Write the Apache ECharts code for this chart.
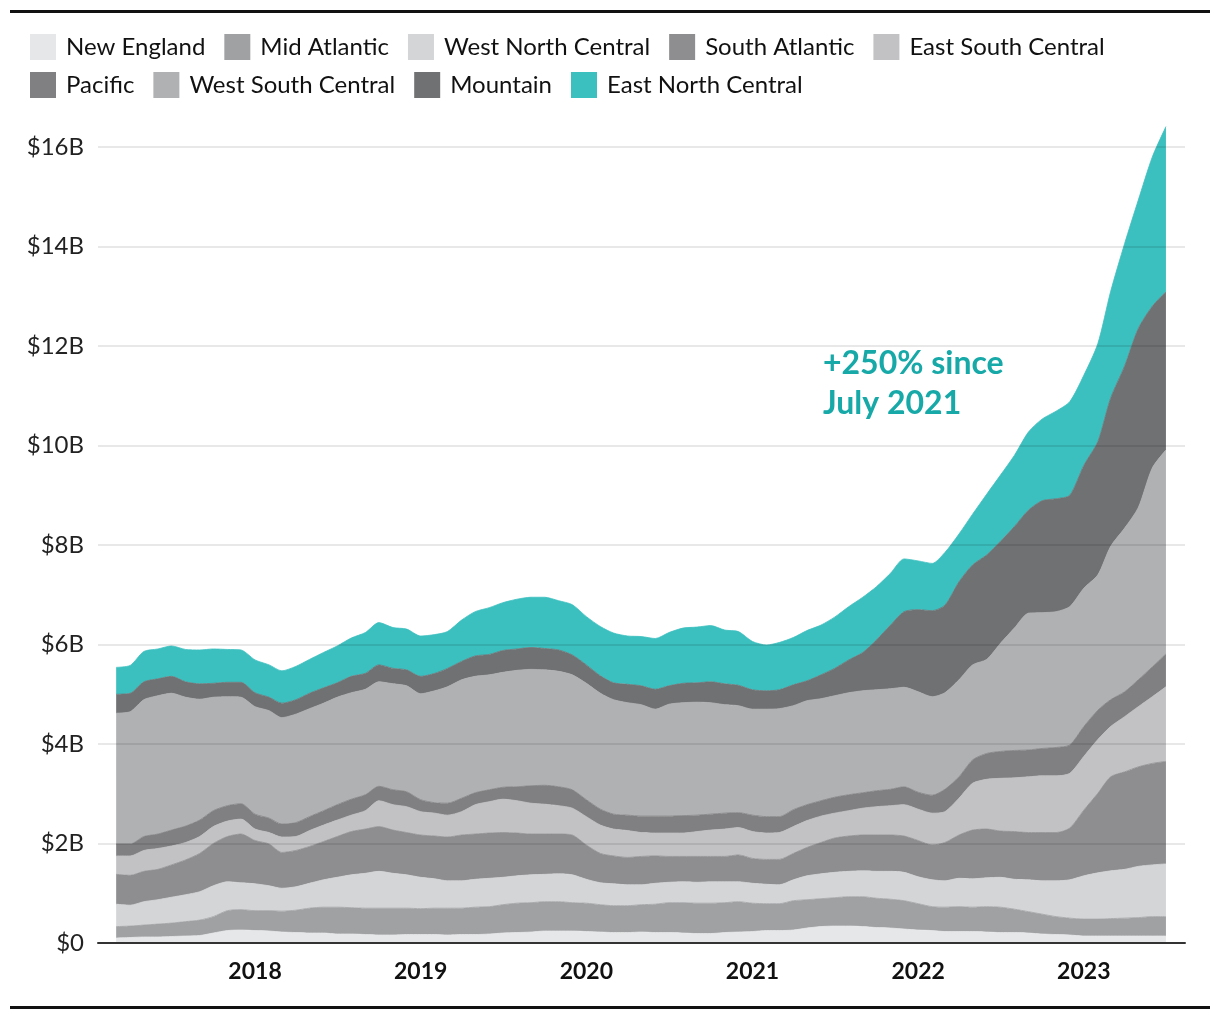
<!DOCTYPE html>
<html>
<head>
<meta charset="utf-8">
<script src="https://cdn.jsdelivr.net/npm/echarts@6/dist/echarts.min.js"></script>
<style>
html,body{margin:0;padding:0;background:#fff;}
#chart{width:1220px;height:1020px;}
</style>
</head>
<body>
<div id="chart"></div>
<script>
const months = [
'2017-03','2017-04','2017-05','2017-06','2017-07','2017-08','2017-09','2017-10','2017-11','2017-12',
'2018-01','2018-02','2018-03','2018-04','2018-05','2018-06','2018-07','2018-08','2018-09','2018-10','2018-11','2018-12',
'2019-01','2019-02','2019-03','2019-04','2019-05','2019-06','2019-07','2019-08','2019-09','2019-10','2019-11','2019-12',
'2020-01','2020-02','2020-03','2020-04','2020-05','2020-06','2020-07','2020-08','2020-09','2020-10','2020-11','2020-12',
'2021-01','2021-02','2021-03','2021-04','2021-05','2021-06','2021-07','2021-08','2021-09','2021-10','2021-11','2021-12',
'2022-01','2022-02','2022-03','2022-04','2022-05','2022-06','2022-07','2022-08','2022-09','2022-10','2022-11','2022-12',
'2023-01','2023-02','2023-03','2023-04','2023-05','2023-06','2023-07'];

const yearLabels = ['2018','2019','2020','2021','2022','2023'];
const yTicks = ['$0','$2B','$4B','$6B','$8B','$10B','$12B','$14B','$16B'];

// values in $ billions, bottom of stack first
const newEngland = [.10,.11,.12,.12,.13,.14,.15,.20,.25,.26,.25,.24,.22,.21,.20,.20,.18,.18,.17,.16,.16,.17,.17,.17,.16,.17,.17,.18,.20,.21,.22,.24,.24,.24,.23,.22,.21,.21,.22,.21,.21,.20,.19,.19,.21,.22,.23,.25,.25,.26,.30,.33,.34,.34,.33,.31,.30,.28,.26,.25,.23,.23,.23,.22,.21,.21,.20,.18,.17,.16,.14,.14,.14,.14,.14,.14,.14];
const midAtlantic = [.23,.23,.24,.26,.27,.29,.31,.33,.40,.41,.40,.41,.42,.45,.50,.52,.54,.53,.53,.54,.54,.53,.52,.53,.54,.53,.55,.55,.57,.59,.59,.59,.59,.57,.57,.55,.54,.54,.55,.57,.60,.61,.61,.61,.60,.61,.57,.54,.54,.59,.57,.56,.57,.59,.60,.59,.58,.57,.53,.48,.49,.50,.49,.51,.51,.47,.43,.40,.36,.34,.34,.34,.35,.36,.37,.39,.39];
const westNorthCentral = [.45,.42,.47,.49,.52,.54,.57,.62,.58,.54,.54,.50,.46,.47,.50,.55,.60,.66,.70,.74,.70,.67,.63,.59,.55,.55,.56,.57,.55,.55,.56,.55,.56,.56,.48,.44,.44,.42,.40,.42,.41,.42,.42,.43,.42,.40,.40,.39,.38,.42,.48,.50,.51,.51,.52,.54,.56,.57,.54,.54,.53,.57,.57,.58,.60,.60,.64,.67,.72,.77,.87,.93,.96,.98,1.03,1.04,1.06];
const southAtlantic = [.60,.60,.61,.61,.65,.70,.77,.85,.91,.98,.87,.84,.72,.73,.74,.77,.82,.87,.89,.90,.87,.85,.85,.86,.88,.92,.91,.91,.90,.86,.82,.81,.80,.80,.69,.59,.56,.55,.57,.55,.52,.51,.52,.51,.51,.54,.50,.50,.51,.53,.57,.63,.69,.71,.72,.73,.73,.73,.73,.70,.77,.87,.98,.98,.93,.96,.95,.97,.97,1.04,1.32,1.60,1.89,1.96,2.00,2.04,2.06];
const eastSouthCentral = [.37,.39,.42,.42,.38,.35,.34,.34,.31,.30,.23,.23,.31,.28,.32,.33,.33,.33,.37,.52,.51,.52,.47,.46,.44,.47,.59,.63,.67,.65,.62,.60,.57,.54,.57,.57,.54,.54,.48,.46,.47,.47,.50,.53,.55,.55,.54,.53,.54,.54,.54,.53,.50,.51,.54,.57,.59,.63,.63,.64,.62,.74,.94,1.00,1.06,1.08,1.12,1.14,1.14,1.10,1.08,1.08,1.01,1.11,1.21,1.34,1.50];
const pacific = [.24,.24,.28,.29,.32,.33,.33,.32,.31,.31,.30,.29,.26,.28,.28,.29,.31,.32,.32,.29,.30,.30,.24,.21,.24,.27,.24,.24,.24,.28,.35,.38,.38,.37,.34,.32,.30,.31,.33,.34,.34,.35,.33,.32,.32,.30,.33,.33,.32,.34,.32,.31,.32,.32,.31,.32,.33,.36,.34,.36,.45,.43,.47,.52,.54,.55,.54,.55,.57,.57,.60,.59,.54,.50,.54,.60,.66];
const westSouthCentral = [2.63,2.66,2.75,2.78,2.75,2.59,2.43,2.28,2.19,2.14,2.16,2.16,2.14,2.18,2.17,2.16,2.16,2.14,2.12,2.10,2.13,2.13,2.13,2.25,2.34,2.38,2.34,2.31,2.31,2.34,2.34,2.32,2.32,2.31,2.34,2.33,2.30,2.26,2.24,2.15,2.25,2.27,2.27,2.24,2.18,2.15,2.13,2.16,2.17,2.09,2.09,2.05,2.04,2.05,2.05,2.03,2.02,2.00,2.02,1.98,1.94,1.95,1.91,1.89,2.17,2.46,2.75,2.73,2.73,2.78,2.78,2.72,3.08,3.29,3.46,4.00,4.10];
const mountain = [.38,.37,.36,.34,.34,.31,.31,.28,.29,.30,.28,.27,.29,.29,.31,.31,.29,.33,.32,.34,.31,.32,.35,.35,.37,.37,.41,.41,.44,.43,.44,.43,.43,.40,.37,.35,.34,.37,.38,.40,.37,.39,.39,.42,.42,.41,.39,.37,.38,.42,.40,.48,.55,.66,.77,1.00,1.28,1.52,1.65,1.73,1.76,1.97,2.01,2.10,2.05,2.04,2.07,2.25,2.27,2.24,2.47,2.68,2.98,3.26,3.60,3.25,3.18];
const eastNorthCentral = [.54,.56,.61,.60,.61,.65,.68,.69,.66,.65,.66,.65,.65,.67,.68,.71,.74,.77,.82,.85,.82,.82,.81,.78,.74,.83,.89,.94,.96,1.00,1.01,1.03,.99,1.01,.97,.99,1.00,.97,.99,1.02,1.07,1.11,1.12,1.13,1.08,1.08,.97,.92,.95,.95,1.01,1.00,1.03,1.07,1.11,1.07,1.04,1.06,.98,.95,1.06,.96,1.02,1.22,1.33,1.43,1.57,1.64,1.76,1.88,1.81,1.97,2.14,2.46,2.58,3.00,3.32];

const seriesNames = ['New England','Mid Atlantic','West North Central','South Atlantic','East South Central','Pacific','West South Central','Mountain','East North Central'];
const seriesValues = [newEngland, midAtlantic, westNorthCentral, southAtlantic, eastSouthCentral, pacific, westSouthCentral, mountain, eastNorthCentral];
const seriesColors = ['#e6e7e8','#a0a1a3','#d4d5d7','#8e8e90','#c2c2c4','#808082','#b0b1b3','#707173','#3cbfbf'];

const FONT = 'Lato';
const chart = echarts.init(document.getElementById('chart'), null, {renderer: 'canvas'});

const legendBase = {
  left: 25, orient: 'horizontal', icon: 'rect', itemWidth: 26, itemHeight: 26, itemGap: 19,
  selectedMode: false,
  textStyle: {fontFamily: FONT, fontSize: 24, color: '#111', padding: [0, 0, 0, 5]}
};

const option = {
  animation: false,
  backgroundColor: '#fff',
  legend: [
    Object.assign({}, legendBase, {top: 29, data: seriesNames.slice(0, 5)}),
    Object.assign({}, legendBase, {top: 67, data: seriesNames.slice(5)})
  ],
  grid: {left: 98, right: 35, top: 147, bottom: 77, containLabel: false},
  xAxis: {
    type: 'time',
    min: new Date(2017, 0, 20).getTime(),
    max: new Date(2023, 7, 12).getTime(),
    minInterval: 365 * 24 * 3600 * 1000,
    maxInterval: 366 * 24 * 3600 * 1000,
    z: 10,
    axisLine: {show: true, lineStyle: {color: '#333', width: 2}},
    axisTick: {show: false},
    splitLine: {show: false},
    axisLabel: {
      showMinLabel: false, showMaxLabel: false,
      margin: 17, fontFamily: FONT, fontSize: 23, fontWeight: 'bold', color: '#111',
      formatter: function (val) {
        const d = new Date(val);
        const y = String(d.getFullYear());
        return (d.getMonth() === 0 && d.getDate() === 1 && yearLabels.indexOf(y) >= 0) ? y : '';
      }
    }
  },
  yAxis: {
    type: 'value', min: 0, max: 16, interval: 2, z: 10,
    axisLine: {show: false}, axisTick: {show: false},
    splitLine: {show: true, lineStyle: {color: 'rgba(0,0,0,0.09)', width: 2}},
    axisLabel: {
      margin: 14, fontFamily: FONT, fontSize: 24, color: '#222',
      formatter: function (v) { return yTicks[Math.round(v / 2)]; }
    }
  },
  graphic: [
    {type: 'rect', left: 10, top: 10, shape: {width: 1200, height: 3}, style: {fill: '#111'}},
    {type: 'rect', left: 10, top: 1006, shape: {width: 1200, height: 3}, style: {fill: '#111'}},
    {type: 'text', left: 823, top: 344, z: 20,
     style: {text: '+250% since\nJuly 2021', font: 'bold 32px Lato', fill: '#17a8a8', lineHeight: 40}}
  ],
  series: seriesNames.map(function (name, k) {
    return {
      name: name, type: 'line', stack: 'total', smooth: 0.25, symbol: 'none', showSymbol: false,
      clip: false,
      lineStyle: {width: 0.8, color: seriesColors[k]},
      itemStyle: {color: seriesColors[k]},
      areaStyle: {color: seriesColors[k], opacity: 1},
      emphasis: {disabled: true},
      data: months.map(function (m, i) { return [m + '-01', seriesValues[k][i]]; })
    };
  })
};
chart.setOption(option);
</script>
</body>
</html>
